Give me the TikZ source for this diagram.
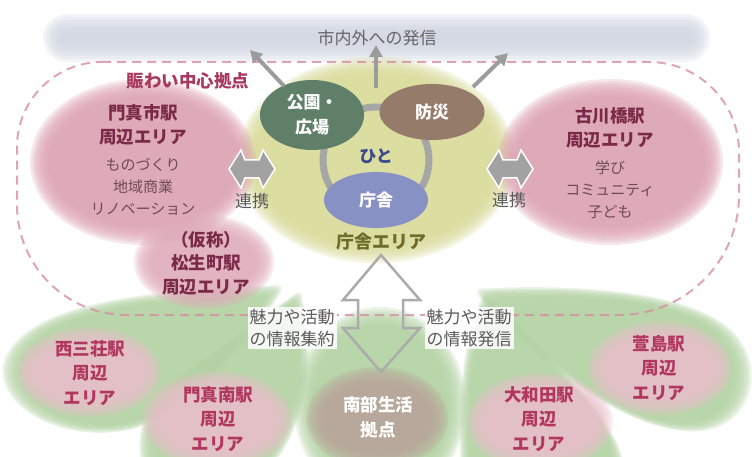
\documentclass[tikz,border=0pt]{standalone}
\usepackage{fontspec}
\setmainfont{Noto Sans CJK JP}
\usetikzlibrary{shapes.geometric,arrows.meta}
\definecolor{band}{HTML}{CDD3DF}
\definecolor{yel}{HTML}{D8DA98}
\definecolor{pinkA}{HTML}{DCA2B1}
\definecolor{pinkB}{HTML}{DFABBA}
\definecolor{pinkC}{HTML}{E8C0CA}
\definecolor{grn}{HTML}{B2D1A2}
\definecolor{brn}{HTML}{B9A59A}
\definecolor{parkg}{HTML}{5F7F69}
\definecolor{bous}{HTML}{957B69}
\definecolor{chou}{HTML}{8791C3}
\definecolor{ringg}{HTML}{A6A6A6}
\definecolor{dashc}{HTML}{D48FA3}
\definecolor{maroonD}{HTML}{7A2A47}
\definecolor{maroonL}{HTML}{6E4A57}
\definecolor{rose}{HTML}{B1375F}
\definecolor{roseT}{HTML}{A8385E}
\definecolor{hito}{HTML}{3B4A8C}
\definecolor{olive}{HTML}{6E6C2A}
\definecolor{txtg}{HTML}{5A5A5A}
\definecolor{arrg}{HTML}{A2A2A2}
\definecolor{arrg2}{HTML}{9C9C9C}
\definecolor{outg}{HTML}{ABABAB}
\newcommand\fzell[5]{\foreach \dd in {10,7.5,5,2.5,0,-2.5,-5,-7.5}{\fill[#1,opacity=0.26,shift={#2},rotate=#5] (0,0) ellipse [x radius={#3+\dd}, y radius={#4+\dd}];}}
\newcommand\fzpath[3]{\foreach \ss in {1.07,1.05,1.03,1.01,0.99,0.97,0.95,0.93}{\fill[#1,opacity=0.26,scale around={\ss:#2}] #3;}}
\newcommand\linkarrow[2]{\filldraw[linkarr,shift={(#1,#2)}] (-23,0) -- (-11,-19) -- (-7,-9) -- (7,-9) -- (11,-19) -- (23,0) -- (11,19) -- (7,9) -- (-7,9) -- (-11,19) -- cycle;}
\tikzset{
 lbl/.style={inner sep=0pt, align=center},
 ttl/.style={lbl, text=maroonD, font=\bfseries\fontsize{17.5}{24}\selectfont},
 sub/.style={lbl, text=maroonL, font=\fontsize{15}{22}\selectfont},
 stn/.style={lbl, text=rose, font=\bfseries\fontsize{17.5}{24.5}\selectfont},
 gtx/.style={lbl, text=txtg, font=\fontsize{17}{22}\selectfont},
 ell/.style={ellipse, inner sep=0pt, text=white, align=center, font=\bfseries\fontsize{17}{25}\selectfont},
 uparr/.style={draw=arrg2, line width=4pt, -{Triangle[width=13pt,length=12pt]}},
 linkarr/.style={fill=arrg, draw=white, line width=1.5pt, line join=miter},
 bigarr/.style={draw=outg, line width=2.5pt, line join=miter},
 dashb/.style={draw=dashc, line width=2pt, dash pattern=on 9pt off 6pt, opacity=0.8},
 halo/.style={fill=white, fill opacity=0.85, text opacity=1, inner sep=2pt}
}
\begin{document}
\begin{tikzpicture}[x=1pt,y=-1pt]
\useasboundingbox (0,0) rectangle (752,457);
% top band
\foreach \dd in {12,9,6,3,0,-3,-6}{\pgfmathsetmacro\rr{12+\dd}
 \fill[band,opacity=0.25,rounded corners=\rr pt] ({55-\dd},{26-\dd}) rectangle ({698+\dd},{50+\dd});}
% green blobs
\fzpath{grn}{(140,370)}{(262,291) .. controls (180,295) and (40,300) .. (14,358) .. controls (-2,398) and (60,440) .. (130,426) .. controls (190,412) and (250,332) .. (270,300) .. controls (276,291) and (272,290) .. (262,291) -- cycle}
\fzpath{grn}{(235,395)}{(298,306) .. controls (312,360) and (302,430) .. (262,470) -- (150,470) .. controls (138,432) and (150,400) .. (190,372) .. controls (232,342) and (275,312) .. (289,302) .. controls (296,297) and (298,299) .. (298,306) -- cycle}
\fzell{grn}{(380,405)}{76}{88}{0}
\fzpath{grn}{(530,395)}{(484,306) .. controls (470,334) and (460,400) .. (466,470) -- (618,470) .. controls (622,430) and (560,370) .. (496,306) .. controls (488,298) and (485,299) .. (484,306) -- cycle}
\fzpath{grn}{(620,362)}{(496,293) .. controls (565,290) and (682,292) .. (725,333) .. controls (760,368) and (742,426) .. (690,427) .. controls (620,428) and (530,350) .. (490,303) .. controls (483,295) and (487,293) .. (496,293) -- cycle}
% bottom ellipses
\fzell{pinkC}{(89,372)}{62}{35}{0}
\fzell{pinkC}{(217,420)}{65}{39}{0}
\fzell{brn}{(377,418)}{61}{41}{0}
\fzell{pinkC}{(540,422)}{63}{39}{0}
\fzell{pinkC}{(660,368)}{62}{37}{0}
% yellow area
\fzell{yel}{(376,160)}{129}{93}{0}
% big pink areas
\fzell{pinkA}{(143,162)}{103}{73}{0}
\fzell{pinkA}{(610,162)}{103}{73}{0}
\fzell{pinkB}{(204,262)}{60}{37}{0}
% dashed boundary
\draw[dashb] (102,62) -- (649,62) .. controls (698.7,62) and (739,102.3) .. (739,152) -- (739,195)
 .. controls (739,261.3) and (685.3,315) .. (619,315) -- (127,315)
 .. controls (66.2,315) and (17,265.8) .. (17,205) -- (17,147)
 .. controls (17,100.1) and (55.1,62) .. (102,62);
% band text
\node[gtx, text=black!60] (band) at (377,38) {市内外への発信};
% ring and nodes
\draw[ringg, line width=7pt] (376,160) circle [radius=53];
\node[ell, fill=parkg, minimum width=104pt, minimum height=70pt] (park) at (312,115) {公園・\\広場};
\node[ell, fill=bous, minimum width=105pt, minimum height=56pt] (bousai) at (432,112) {防災};
\node[ell, fill=chou, minimum width=104pt, minimum height=56pt] (chousha) at (376,200) {庁舎};
\node[lbl, text=hito, font=\bfseries\fontsize{17}{20}\selectfont] (hito) at (376,156) {ひと};
\node[lbl, text=olive, font=\bfseries\fontsize{18}{20}\selectfont] (area) at (381,242) {庁舎エリア};
% up arrows
\coordinate (aL0) at (284,86); \coordinate (aL1) at (250,50);
\coordinate (aM0) at (376,88); \coordinate (aM1) at (376,45);
\coordinate (aR0) at (473,87); \coordinate (aR1) at (508,53);
\draw[uparr] (aL0) -- (aL1);
\draw[uparr] (aM0) -- (aM1);
\draw[uparr] (aR0) -- (aR1);
% titles
\node[lbl, text=roseT, font=\bfseries\fontsize{17.5}{20}\selectfont] (nigiwai) at (188,81) {賑わい中心拠点};
\node[ttl] (kadoma) at (143,125) {門真市駅\\周辺エリア};
\node[sub] (kadomasub) at (143,187) {ものづくり\\地域商業\\リノベーション};
\node[ttl] (furu) at (610,128) {古川橋駅\\周辺エリア};
\node[sub] (furusub) at (610,190) {学び\\コミュニティ\\子ども};
\node[ttl, font=\bfseries\fontsize{17.5}{23.5}\selectfont] (matsu) at (206,263) {（仮称）\\松生町駅\\周辺エリア};
% link arrows
\linkarrow{252}{169}
\linkarrow{510}{169}
\node[gtx] (renL) at (252,201) {連携};
\node[gtx] (renR) at (509,200) {連携};
% central arrow
\draw[bigarr] (381,255) -- (420,300) -- (403,300) -- (403,328) -- (420,328) -- (381,372)
 -- (343,328) -- (358,328) -- (358,300) -- (343,300) -- cycle;
\node[gtx, halo] (shuyaku) at (292,328) {魅力や活動\\の情報集約};
\node[gtx, halo] (hasshin) at (469,328) {魅力や活動\\の情報発信};
% bottom stations
\node[stn] (nishi) at (90,373) {西三荘駅\\周辺\\エリア};
\node[stn] (minami) at (218,419) {門真南駅\\周辺\\エリア};
\node[lbl, text=white, font=\bfseries\fontsize{17.5}{25}\selectfont] (nanbu) at (378,417) {南部生活\\拠点};
\node[stn] (owada) at (539,419) {大和田駅\\周辺\\エリア};
\node[stn] (kaya) at (659,368) {萱島駅\\周辺\\エリア};
\end{tikzpicture}
\end{document}
